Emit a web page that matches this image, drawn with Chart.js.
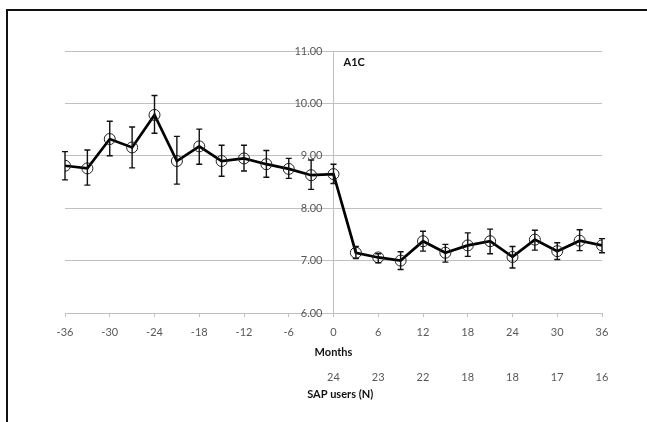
<!DOCTYPE html>
<html>
<head>
<meta charset="utf-8">
<script src="https://cdn.jsdelivr.net/npm/chart.js@4"></script>
<style>
  html, body { margin: 0; padding: 0; background: #fff; }
  #wrap { position: relative; width: 647px; height: 422px; overflow: hidden; }
  #frame {
    position: absolute; left: 6px; top: 9px; width: 700px; height: 500px;
    border-top: 2px solid #111; border-left: 2px solid #111; pointer-events: none;
  }
  canvas { position: absolute; left: 0; top: 0; }
</style>
</head>
<body>
<div id="wrap">
  <canvas id="a1cChart" width="647" height="422"></canvas>
  <div id="frame"></div>
</div>
<script>
// months relative to SAP start
const months = [-36, -33, -30, -27, -24, -21, -18, -15, -12, -9, -6, -3, 0,
                3, 6, 9, 12, 15, 18, 21, 24, 27, 30, 33, 36];
const a1cMean = [8.81, 8.76, 9.32, 9.16, 9.78, 8.90, 9.18, 8.90, 8.95, 8.84, 8.75, 8.63, 8.65,
                 7.15, 7.06, 7.00, 7.37, 7.15, 7.29, 7.37, 7.07, 7.40, 7.18, 7.38, 7.29];
const a1cHigh = [9.08, 9.11, 9.66, 9.55, 10.15, 9.37, 9.51, 9.20, 9.20, 9.10, 8.95, 8.92, 8.84,
                 7.27, 7.13, 7.17, 7.56, 7.31, 7.53, 7.60, 7.27, 7.58, 7.34, 7.59, 7.42];
const a1cLow  = [8.54, 8.44, 9.00, 8.77, 9.43, 8.46, 8.84, 8.61, 8.71, 8.59, 8.57, 8.36, 8.47,
                 7.04, 6.96, 6.83, 7.18, 6.97, 7.08, 7.13, 6.86, 7.20, 7.02, 7.19, 7.15];

// SAP users (N) shown under the months axis
const nMonths = [0, 6, 12, 18, 24, 30, 36];
const nUsers  = [24, 23, 22, 18, 18, 17, 16];

const FONT = 'Lato, "Open Sans", sans-serif';
const GRID = '#c0c0c0';
const TXT = '#595959';

// ─── error bars, drawn through the chart's scales ──────────────────
const errorBars = {
  id: 'errorBars',
  afterDatasetsDraw(chart) {
    const { ctx, scales: { x, y } } = chart;
    ctx.save();
    ctx.strokeStyle = '#111';
    ctx.lineWidth = 1.4;
    months.forEach((m, i) => {
      const px = x.getPixelForValue(m);
      const top = y.getPixelForValue(a1cHigh[i]);
      const bot = y.getPixelForValue(a1cLow[i]);
      ctx.beginPath();
      ctx.moveTo(px, top); ctx.lineTo(px, bot);
      ctx.moveTo(px - 3, top); ctx.lineTo(px + 3, top);
      ctx.moveTo(px - 3, bot); ctx.lineTo(px + 3, bot);
      ctx.stroke();
    });
    ctx.restore();
  }
};

// ─── "A1C" label inside the plot ──────────────────────────────────
const panelLabel = {
  id: 'panelLabel',
  afterDraw(chart) {
    const { ctx, chartArea, scales: { x } } = chart;
    ctx.save();
    ctx.fillStyle = '#111';
    ctx.font = 'bold 11px ' + FONT;
    ctx.textAlign = 'left';
    ctx.textBaseline = 'middle';
    ctx.fillText('A1C', x.getPixelForValue(0) + 10, chartArea.top + 11);
    ctx.restore();
  }
};

new Chart(document.getElementById('a1cChart'), {
  type: 'line',
  data: {
    datasets: [{
      label: 'A1C',
      data: months.map((m, i) => ({ x: m, y: a1cMean[i] })),
      borderColor: '#000',
      borderWidth: 2.7,
      pointRadius: 5.5,
      pointBorderWidth: 1,
      pointBorderColor: '#222',
      pointBackgroundColor: 'rgba(0,0,0,0)',
      tension: 0
    }]
  },
  options: {
    responsive: false,
    animation: false,
    layout: { padding: { left: 65, right: 45, top: 51, bottom: 19 } },
    plugins: { legend: { display: false }, tooltip: { enabled: false } },
    scales: {
      x: {
        type: 'linear',
        position: 'bottom',
        weight: 0,
        min: -36, max: 36,
        afterBuildTicks(s) { s.ticks = [-36, -30, -24, -18, -12, -6, 0, 6, 12, 18, 24, 30, 36].map(v => ({ value: v })); },
        ticks: { color: TXT, font: { family: FONT, size: 11 }, padding: 9, maxRotation: 0, autoSkip: false },
        grid: { drawOnChartArea: false, color: GRID, tickLength: 4 },
        border: { color: GRID },
        title: { display: true, text: 'Months', color: '#111', font: { family: FONT, size: 11, weight: 'bold' }, padding: { top: 2, bottom: 2 } },
        afterFit(s) { s.height = 48; }
      },
      xN: {
        type: 'linear',
        position: 'bottom',
        weight: 1,
        min: -36, max: 36,
        afterBuildTicks(s) { s.ticks = nMonths.map(v => ({ value: v })); },
        ticks: {
          color: TXT, font: { family: FONT, size: 11 }, padding: 2, maxRotation: 0, autoSkip: false,
          callback: (v) => { const k = nMonths.indexOf(v); return k >= 0 ? String(nUsers[k]) : ''; }
        },
        grid: { display: false },
        border: { display: false },
        title: { display: true, text: '     SAP users (N)', color: '#111', font: { family: FONT, size: 11, weight: 'bold' }, padding: { top: 2, bottom: 2 } },
        afterFit(s) { s.height = 42; }
      },
      y: {
        position: { x: 0 },
        min: 6, max: 11,
        afterBuildTicks(s) { s.ticks = [6, 7, 8, 9, 10, 11].map(v => ({ value: v })); },
        // labels sit right against the crossing axis; trailing en spaces push them left
        ticks: { color: TXT, font: { family: FONT, size: 11 }, callback: v => v.toFixed(2) + '\u2002\u2002' },
        grid: { color: GRID, tickLength: 6 },
        border: { color: GRID }
      }
    }
  },
  plugins: [errorBars, panelLabel]
});
</script>
</body>
</html>
